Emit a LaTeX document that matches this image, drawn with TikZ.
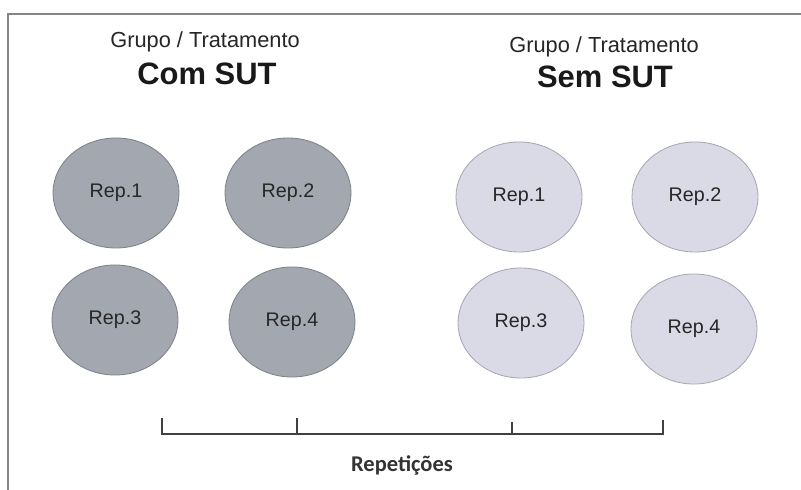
\documentclass[tikz,border=0pt]{standalone}
\usepackage{fontspec}
\setmainfont{Liberation Sans}
\newfontfamily\repfont{Carlito}
\usetikzlibrary{shapes.geometric}

\definecolor{comfill}{HTML}{A3A8B0}
\definecolor{comline}{HTML}{7E8288}
\definecolor{semfill}{HTML}{D9DAE6}
\definecolor{semline}{HTML}{A6A8B2}
\definecolor{framegray}{HTML}{858585}

\tikzset{
  repcom/.style={ellipse, draw=comline, fill=comfill, line width=0.6pt,
    minimum width=3.15cm, minimum height=2.75cm, inner sep=0pt,
    font=\fontsize{14}{16}\selectfont, text=black!85},
  repsem/.style={repcom, draw=semline, fill=semfill},
  grptitle/.style={font=\fontsize{15.5}{17}\selectfont, text=black!85},
  grpname/.style={font=\fontsize{22}{24}\selectfont\bfseries, text=black!90}
}

\begin{document}
\begin{tikzpicture}[x=0.025cm, y=-0.025cm]
		\useasboundingbox (0,0) rectangle (801,490);
		% moldura
		\draw [framegray, line width=1.2pt] (801,14) -- (8,14) -- (8,490);
		
		% titulos
		\node [grptitle] (tcom) at (205,42) {Grupo / Tratamento};
		\node [grpname] (ncom) at (207,74) {Com SUT};
		\node [grptitle] (tsem) at (604,47) {Grupo / Tratamento};
		\node [grpname] (nsem) at (605,77) {Sem SUT};
		
		% grupo com SUT
		\node [repcom] (com1) at (116,193) {Rep.1};
		\node [repcom] (com2) at (288,193) {Rep.2};
		\node [repcom] (com3) at (115,320) {Rep.3};
		\node [repcom] (com4) at (292,322) {Rep.4};
		
		% grupo sem SUT
		\node [repsem] (sem1) at (519,197) {Rep.1};
		\node [repsem] (sem2) at (695,197) {Rep.2};
		\node [repsem] (sem3) at (521,323) {Rep.3};
		\node [repsem] (sem4) at (694,329) {Rep.4};
		
		% chave das repeticoes
		\coordinate (b1) at (162,434);
		\coordinate (b2) at (297,434);
		\coordinate (b3) at (512,434);
		\coordinate (b4) at (663,434);
		\draw [black!75, line width=1pt] (162,418) -- (b1) -- (b4) -- (663,420);
		\draw [black!75, line width=1pt] (b2) -- (297,418);
		\draw [black!75, line width=1pt] (b3) -- (512,422);
		\node [font=\repfont\fontsize{16}{18}\selectfont\bfseries, text=black!80] (rep) at (402,465) {Repetições};
		
		\end{tikzpicture}
\end{document}
